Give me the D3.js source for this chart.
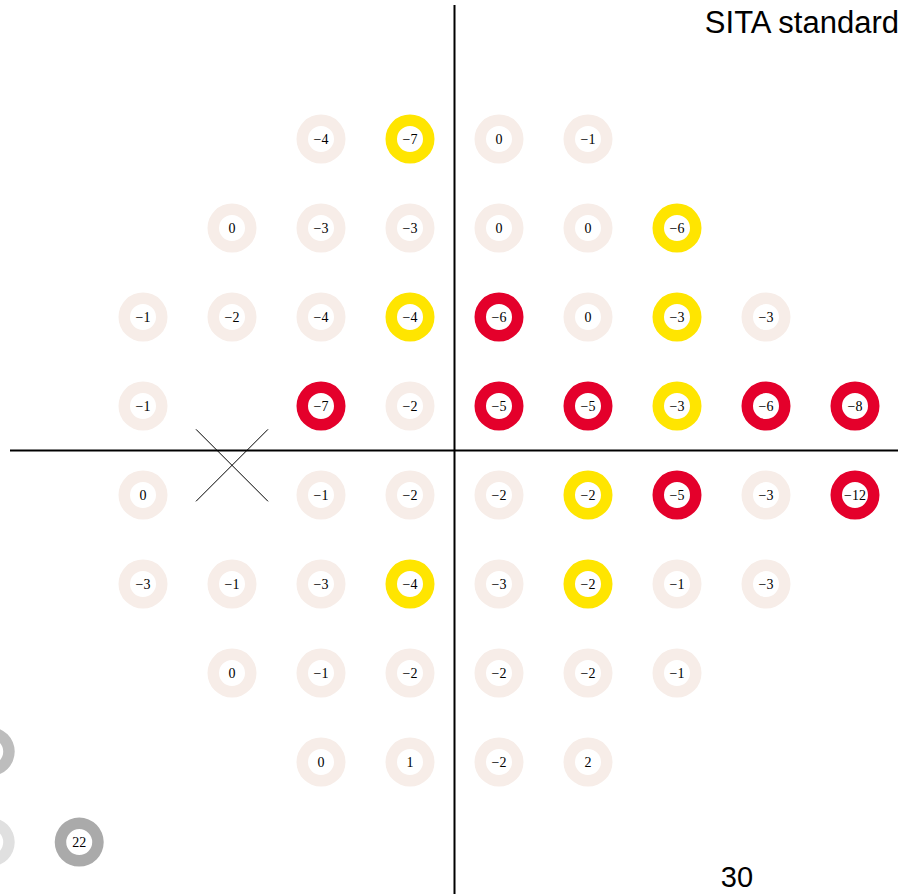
<!DOCTYPE html>
<html>
<head>
<meta charset="utf-8">
<script src="https://cdn.jsdelivr.net/npm/d3@7"></script>
<style>
  body { margin: 0; background: #fff; }
  svg { display: block; }
</style>
</head>
<body>
<div id="chart"></div>
<script>
// test locations (degrees) and deviation values, read row by row
const rowY = [21, 15, 9, 3, -3, -9, -15, -21];
const rowX = [
  [-9, -3, 3, 9],
  [-15, -9, -3, 3, 9, 15],
  [-21, -15, -9, -3, 3, 9, 15, 21],
  [-21, -9, -3, 3, 9, 15, 21, 27],
  [-21, -9, -3, 3, 9, 15, 21, 27],
  [-21, -15, -9, -3, 3, 9, 15, 21],
  [-15, -9, -3, 3, 9, 15],
  [-9, -3, 3, 9]
];
const rowVals = [
  [-4, -7, 0, -1],
  [0, -3, -3, 0, 0, -6],
  [-1, -2, -4, -4, -6, 0, -3, -3],
  [-1, -7, -2, -5, -5, -3, -6, -8],
  [0, -1, -2, -2, -2, -5, -3, -12],
  [-3, -1, -3, -4, -3, -2, -1, -3],
  [0, -1, -2, -2, -2, -1],
  [0, 1, -2, 2]
];
// 0 = normal, 1 = p<5%, 2 = p<1%
const rowFlag = [
  [0, 1, 0, 0],
  [0, 0, 0, 0, 0, 1],
  [0, 0, 0, 1, 2, 0, 1, 0],
  [0, 2, 0, 2, 2, 1, 2, 2],
  [0, 0, 0, 0, 1, 2, 0, 2],
  [0, 0, 0, 1, 0, 1, 0, 0],
  [0, 0, 0, 0, 0, 0],
  [0, 0, 0, 0]
];
const flagColors = ['#f7ede8', '#ffe500', '#e4002b'];

// grey key circles at lower left
const keyX = [-31.3, -31.3, -25.3];
const keyY = [-20.3, -26.4, -26.4];
const keyColors = ['#bdbdbd', '#e0e0e0', '#aaaaaa'];
const keyLabels = ['', '', '22'];

const blindSpot = { x: -15, y: -1 };

const W = 908, H = 894;
const svg = d3.select('#chart').append('svg')
  .attr('width', W).attr('height', H);

const x = d3.scaleLinear().domain([-21, 27]).range([143, 855]);
const y = d3.scaleLinear().domain([21, -21]).range([139, 762]);

const points = [];
rowY.forEach((yy, i) => {
  rowX[i].forEach((xx, j) => {
    points.push({ x: xx, y: yy, v: rowVals[i][j], f: rowFlag[i][j] });
  });
});

// axes
svg.append('line')
  .attr('x1', x(0)).attr('x2', x(0))
  .attr('y1', 5).attr('y2', H)
  .attr('stroke', '#000').attr('stroke-width', 2);
svg.append('line')
  .attr('x1', 10).attr('x2', 898)
  .attr('y1', y(0)).attr('y2', y(0))
  .attr('stroke', '#000').attr('stroke-width', 2);

// blind spot cross
const bs = 36;
const bx = x(blindSpot.x), by = y(blindSpot.y);
[[-1, -1, 1, 1], [1, -1, -1, 1]].forEach(d => {
  svg.append('line')
    .attr('x1', bx + d[0] * bs).attr('y1', by + d[1] * bs)
    .attr('x2', bx + d[2] * bs).attr('y2', by + d[3] * bs)
    .attr('stroke', '#000').attr('stroke-width', 1);
});

const ring = d3.arc().innerRadius(13).outerRadius(24.5).startAngle(0).endAngle(2 * Math.PI);

const g = svg.selectAll('g.pt').data(points).join('g')
  .attr('class', 'pt')
  .attr('transform', d => `translate(${x(d.x)},${y(d.y)})`);
g.append('path').attr('d', ring).attr('fill', d => flagColors[d.f]);
g.append('text')
  .attr('text-anchor', 'middle').attr('dy', '0.33em')
  .attr('font-family', '"Liberation Serif", "DejaVu Serif", serif')
  .attr('font-size', 14)
  .attr('fill', '#000')
  .text(d => d.v < 0 ? '\u2212' + Math.abs(d.v) : d.v);

const keys = keyX.map((k, i) => ({ x: k, y: keyY[i], c: keyColors[i], t: keyLabels[i] }));
const kg = svg.selectAll('g.key').data(keys).join('g')
  .attr('class', 'key')
  .attr('transform', d => `translate(${x(d.x)},${y(d.y)})`);
kg.append('path').attr('d', ring).attr('fill', d => d.c);
kg.append('text')
  .attr('text-anchor', 'middle').attr('dy', '0.33em')
  .attr('font-family', '"Liberation Serif", "DejaVu Serif", serif')
  .attr('font-size', 14)
  .text(d => d.t);

svg.append('text')
  .attr('x', 899).attr('y', 33)
  .attr('text-anchor', 'end')
  .attr('font-family', '"Liberation Sans", Arial, sans-serif')
  .attr('font-size', 31)
  .text('SITA standard');

svg.append('text')
  .attr('x', 737).attr('y', 887)
  .attr('text-anchor', 'middle')
  .attr('font-family', '"Liberation Sans", Arial, sans-serif')
  .attr('font-size', 29)
  .text('30');
</script>
</body>
</html>
